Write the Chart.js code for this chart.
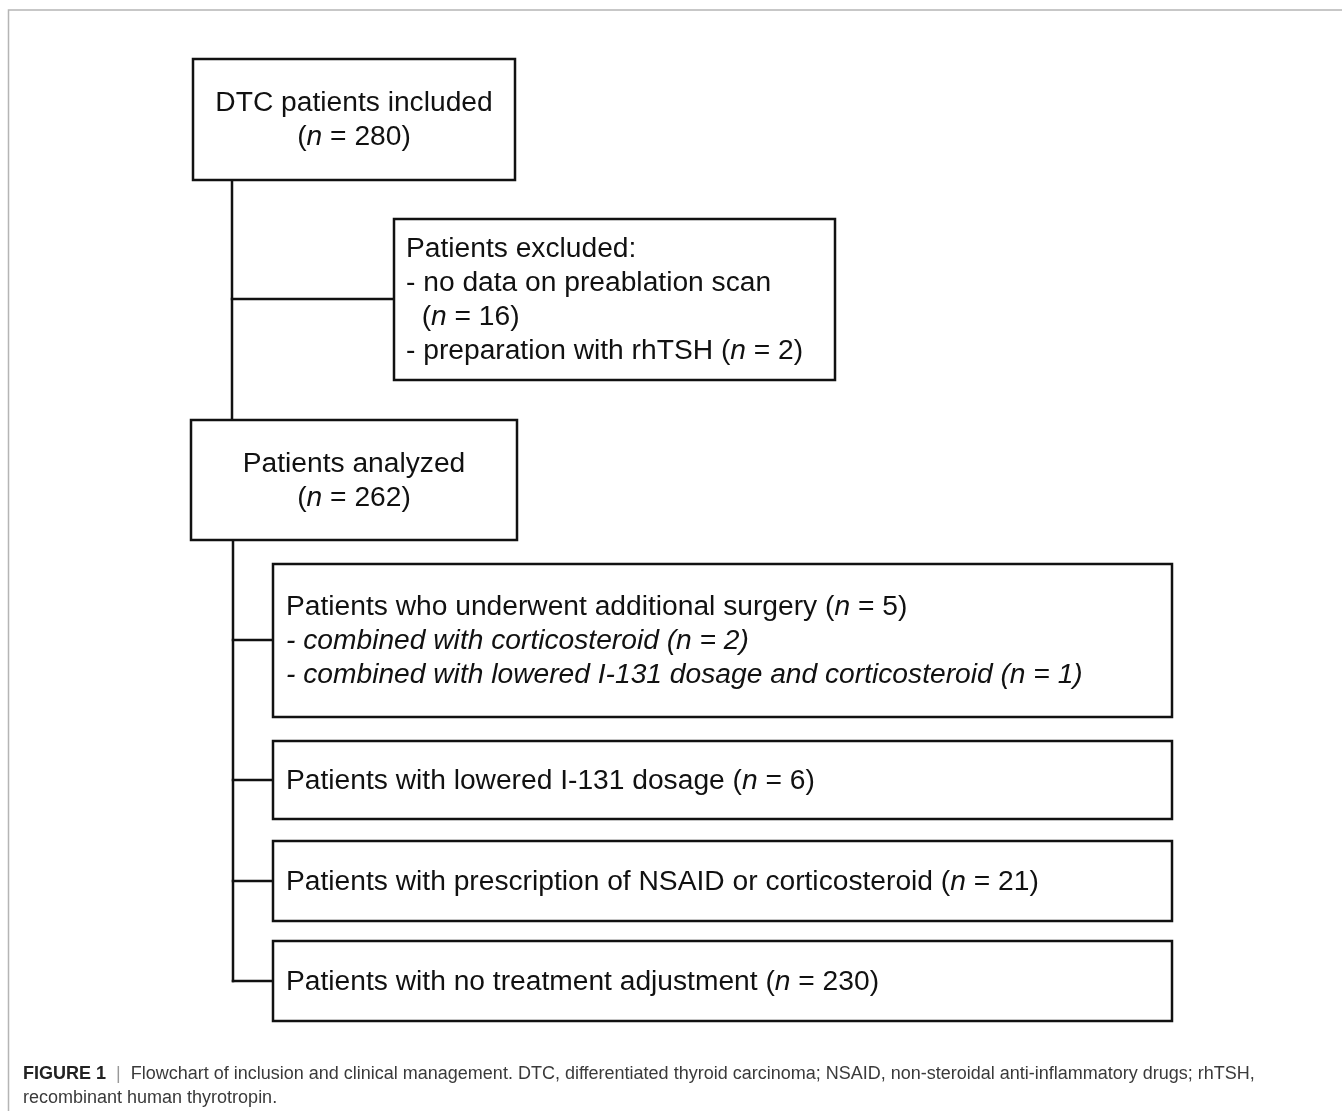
<!DOCTYPE html>
<html>
<head>
<meta charset="utf-8">
<script src="https://cdn.jsdelivr.net/npm/chart.js@4.4.1/dist/chart.umd.min.js"></script>
<style>
  html, body { margin: 0; padding: 0; background: #fff; }
  #wrap { width: 1342px; height: 1111px; }
</style>
</head>
<body>
<div id="wrap"><canvas id="c" width="1342" height="1111"></canvas></div>
<script>
// ---------- data ----------
const includedLabel = 'DTC patients included';
const includedN = 280;
const excludedTitle = 'Patients excluded:';
const excludedReasons = ['no data on preablation scan', 'preparation with rhTSH'];
const excludedN = [16, 2];
const analyzedLabel = 'Patients analyzed';
const analyzedN = 262;
const groupLabels = [
  'Patients who underwent additional surgery',
  'Patients with lowered I-131 dosage',
  'Patients with prescription of NSAID or corticosteroid',
  'Patients with no treatment adjustment'
];
const groupN = [5, 6, 21, 230];
const surgerySubLabels = ['combined with corticosteroid', 'combined with lowered I-131 dosage and corticosteroid'];
const surgerySubN = [2, 1];
const captionBold = 'FIGURE 1';
const captionLines = [
  'Flowchart of inclusion and clinical management. DTC, differentiated thyroid carcinoma; NSAID, non-steroidal anti-inflammatory drugs; rhTSH,',
  'recombinant human thyrotropin.'
];

// ---------- layout (page units = pixels of the 1342x1111 frame) ----------
const FONT = '"Liberation Sans", Arial, Helvetica, sans-serif';
const BOX_FONT = 28.2;
const CAP_FONT = 18;
const LINE_H = 34;
const nRuns = (v, italicAll) => [{t: '(', i: italicAll}, {t: 'n', i: true}, {t: ' = ' + v + ')', i: italicAll}];

const boxes = [
  { x0: 193, y0: 59, x1: 515, y1: 180, align: 'center', tx: 354,
    lines: [[{t: includedLabel}], nRuns(includedN)] },
  { x0: 394, y0: 219, x1: 835, y1: 380, align: 'left', tx: 406,
    lines: [[{t: excludedTitle}],
            [{t: '- ' + excludedReasons[0]}],
            [{t: '  '}].concat(nRuns(excludedN[0])),
            [{t: '- ' + excludedReasons[1] + ' '}].concat(nRuns(excludedN[1]))] },
  { x0: 191, y0: 420, x1: 517, y1: 540, align: 'center', tx: 354,
    lines: [[{t: analyzedLabel}], nRuns(analyzedN)] },
  { x0: 273, y0: 564, x1: 1172, y1: 717, align: 'left', tx: 286,
    lines: [[{t: groupLabels[0] + ' '}].concat(nRuns(groupN[0])),
            [{t: '- ' + surgerySubLabels[0] + ' ', i: true}].concat(nRuns(surgerySubN[0], true)),
            [{t: '- ' + surgerySubLabels[1] + ' ', i: true}].concat(nRuns(surgerySubN[1], true))] },
  { x0: 273, y0: 741, x1: 1172, y1: 819, align: 'left', tx: 286,
    lines: [[{t: groupLabels[1] + ' '}].concat(nRuns(groupN[1]))] },
  { x0: 273, y0: 841, x1: 1172, y1: 921, align: 'left', tx: 286,
    lines: [[{t: groupLabels[2] + ' '}].concat(nRuns(groupN[2]))] },
  { x0: 273, y0: 941, x1: 1172, y1: 1021, align: 'left', tx: 286,
    lines: [[{t: groupLabels[3] + ' '}].concat(nRuns(groupN[3]))] }
];

const connectors = [
  [{x: 232, y: 180}, {x: 232, y: 420}],
  [{x: 232, y: 299}, {x: 394, y: 299}],
  [{x: 233, y: 540}, {x: 233, y: 981}],
  [{x: 233, y: 640}, {x: 273, y: 640}],
  [{x: 233, y: 780}, {x: 273, y: 780}],
  [{x: 233, y: 881}, {x: 273, y: 881}],
  [{x: 233, y: 981}, {x: 273, y: 981}]
];
const frame = [{x: 1342, y: 10}, {x: 8.5, y: 10}, {x: 8.5, y: 1111}];

// ---------- drawing helpers ----------
function fontFor(run, size, bold) {
  return (run.i ? 'italic ' : '') + (bold ? 'bold ' : '') + size + 'px ' + FONT;
}
function drawRuns(ctx, runs, x, y, align, size) {
  let total = 0;
  runs.forEach(r => { ctx.font = fontFor(r, size); total += ctx.measureText(r.t).width; });
  let cx = align === 'center' ? x - total / 2 : x;
  ctx.textAlign = 'left';
  ctx.textBaseline = 'middle';
  runs.forEach(r => {
    ctx.font = fontFor(r, size);
    ctx.fillText(r.t, cx, y);
    cx += ctx.measureText(r.t).width;
  });
}

const flowPlugin = {
  id: 'flow',
  afterDatasetsDraw(chart) {
    const {ctx, scales: {x, y}} = chart;
    ctx.save();
    boxes.forEach(b => {
      const px0 = x.getPixelForValue(b.x0), px1 = x.getPixelForValue(b.x1);
      const py0 = y.getPixelForValue(b.y0), py1 = y.getPixelForValue(b.y1);
      ctx.fillStyle = '#fff';
      ctx.fillRect(px0, py0, px1 - px0, py1 - py0);
      ctx.strokeStyle = '#111';
      ctx.lineWidth = 2.5;
      ctx.strokeRect(px0, py0, px1 - px0, py1 - py0);
      const cy = (b.y0 + b.y1) / 2;
      const n = b.lines.length;
      ctx.fillStyle = '#111';
      b.lines.forEach((ln, k) => {
        const ly = cy + (k - (n - 1) / 2) * LINE_H;
        drawRuns(ctx, ln, x.getPixelForValue(b.tx), y.getPixelForValue(ly) + 1, b.align, BOX_FONT);
      });
    });
    // caption
    const capX = x.getPixelForValue(23);
    const capY1 = y.getPixelForValue(1074), capY2 = y.getPixelForValue(1098);
    ctx.textBaseline = 'middle';
    ctx.textAlign = 'left';
    ctx.font = 'bold ' + CAP_FONT + 'px ' + FONT;
    ctx.fillStyle = '#222';
    ctx.fillText(captionBold, capX, capY1);
    let w = ctx.measureText(captionBold).width;
    ctx.font = CAP_FONT + 'px ' + FONT;
    ctx.fillStyle = '#999';
    ctx.fillText('  |  ', capX + w, capY1);
    w += ctx.measureText('  |  ').width;
    ctx.fillStyle = '#3a3a3a';
    ctx.fillText(captionLines[0], capX + w, capY1);
    ctx.fillText(captionLines[1], capX, capY2);
    ctx.restore();
  }
};

const datasets = connectors.map(seg => ({
  type: 'line', data: seg, borderColor: '#111', borderWidth: 2.5,
  pointRadius: 0, fill: false, tension: 0, borderCapStyle: 'square'
}));
datasets.push({ type: 'line', data: frame, borderColor: '#b5b5b5', borderWidth: 1.5,
  pointRadius: 0, fill: false, tension: 0 });

new Chart(document.getElementById('c'), {
  type: 'scatter',
  data: { datasets },
  options: {
    responsive: false,
    animation: false,
    devicePixelRatio: 1,
    layout: { padding: 0 },
    plugins: { legend: { display: false }, tooltip: { enabled: false }, title: { display: false } },
    scales: {
      x: { type: 'linear', min: 0, max: 1342, display: false },
      y: { type: 'linear', min: 0, max: 1111, reverse: true, display: false }
    }
  },
  plugins: [flowPlugin]
});
</script>
</body>
</html>
